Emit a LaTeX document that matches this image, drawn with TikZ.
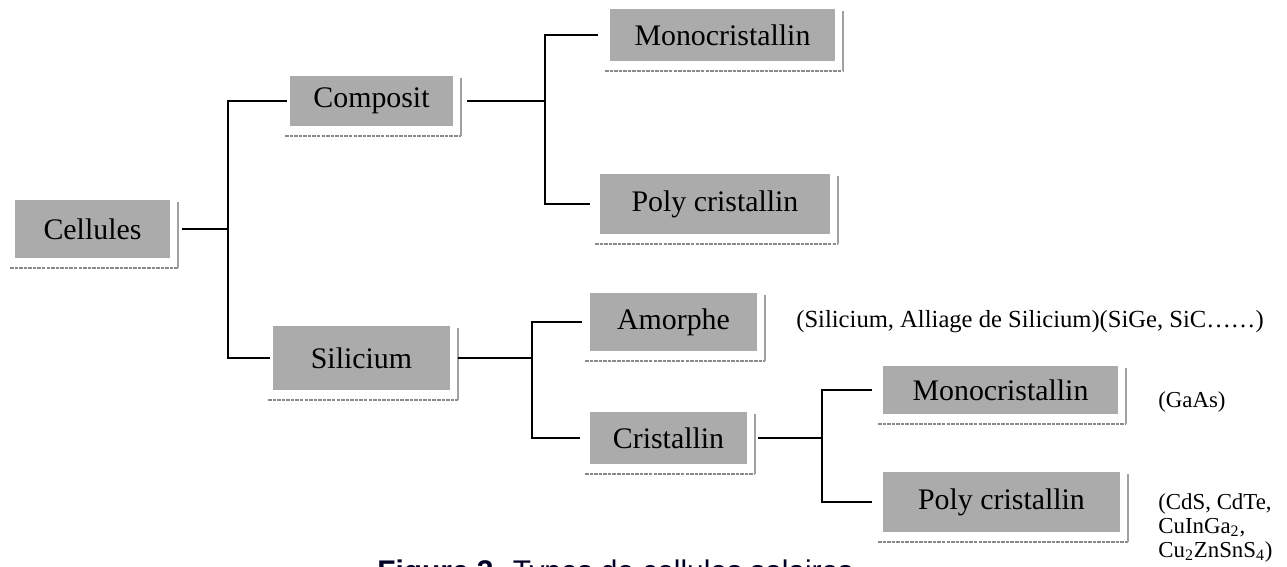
\documentclass[tikz,border=0pt]{standalone}
\usepackage{fontspec}
\setmainfont{Liberation Serif}
\newfontfamily\capfont{Liberation Sans}
\usetikzlibrary{calc}
\definecolor{boxgray}{HTML}{ABABAB}
\definecolor{shadowgray}{HTML}{8A8A8A}

\begin{document}
\begin{tikzpicture}[x=0.02cm, y=-0.02cm,
  cell/.style 2 args={fill=boxgray, inner sep=0pt, outer sep=0pt,
    minimum width=#1*0.02cm, minimum height=#2*0.02cm,
    font=\fontsize{17}{20}\selectfont},
  conn/.style={draw=black, line width=1.1pt},
  shadowbottom/.style={draw=shadowgray, line width=1.4pt, dash pattern=on 2pt off 0.6pt},
  shadowside/.style={draw=shadowgray!80, line width=0.7pt},
  note/.style={font=\fontsize{13}{13.6}\selectfont, anchor=west, inner sep=0pt, align=left}]
\useasboundingbox (0,0) rectangle (1287,567);
\fill[white] (0,0) rectangle (1287,567);

% boxes
\node[cell={155}{58}] (cel)   at (92.5,229)  {Cellules};
\node[cell={163}{50}] (comp)  at (371.5,101) {Composit};
\node[cell={225}{52}] (mono1) at (722.5,35)  {Monocristallin};
\node[cell={230}{60}] (poly1) at (715,204)   {Poly cristallin};
\node[cell={177}{64}] (sil)   at (361.5,358) {Silicium};
\node[cell={167}{58}] (amo)   at (673.5,322) {Amorphe};
\node[cell={157}{52}] (cri)   at (668.5,438) {Cristallin};
\node[cell={235}{48}] (mono2) at (1000.5,390){Monocristallin};
\node[cell={237}{60}] (poly2) at (1001.5,502){Poly cristallin};

% drop-shadow frame lines under and beside each box
\foreach \n in {cel,comp,mono1,poly1,sil,amo,cri,mono2,poly2}{
  \draw[shadowbottom] ([xshift=-0.1cm,yshift=-0.2cm]\n.south west) -- ([xshift=0.16cm,yshift=-0.2cm]\n.south east);
  \draw[shadowside] ([xshift=0.16cm,yshift=-0.2cm]\n.south east) -- ([xshift=0.16cm,yshift=-0.04cm]\n.north east);
}

% vertical bars of the tree
\coordinate (b1) at (228,0);
\coordinate (b2) at (545,0);
\coordinate (b3) at (532,0);
\coordinate (b4) at (822,0);

% connectors
\draw[conn] ([xshift=0.24cm]cel.east) -- (cel.east -| b1);
\draw[conn] ([xshift=-0.06cm]comp.west) -- (comp.west -| b1) -- (sil.west -| b1) -- ([xshift=-0.06cm]sil.west);

\draw[conn] ([xshift=0.28cm]comp.east) -- (comp.east -| b2);
\draw[conn] ([xshift=-0.24cm]mono1.west) -- (mono1.west -| b2) -- (poly1.west -| b2) -- ([xshift=-0.2cm]poly1.west);

\draw[conn] ([xshift=0.16cm]sil.east) -- (sil.east -| b3);
\draw[conn] ([xshift=-0.16cm]amo.west) -- (amo.west -| b3) -- (cri.west -| b3) -- ([xshift=-0.2cm]cri.west);

\draw[conn] ([xshift=0.22cm]cri.east) -- (cri.east -| b4);
\draw[conn] ([xshift=-0.22cm]mono2.west) -- (mono2.west -| b4) -- (poly2.west -| b4) -- ([xshift=-0.22cm]poly2.west);

% material notes
\node[note, font=\fontsize{14}{16}\selectfont] (n1) at (796,322) {(Silicium, Alliage de Silicium)(SiGe, SiC……)};
\node[note] (n2) at (1158,402) {(GaAs)};
\node[note] (n3) at (1158,528) {(CdS, CdTe,\\CuInGa\textsubscript{2},\\Cu\textsubscript{2}ZnSnS\textsubscript{4})};

% caption, cut by the lower edge
\begin{scope}
  \clip (0,0) rectangle (1287,567);
  \node[anchor=base west, inner sep=0pt, font=\capfont\fontsize{17}{20}\selectfont, text=black!85!blue] (cap) at (377,581) {\textbf{Figure 3.} Types de cellules solaires};
\end{scope}
\end{tikzpicture}
\end{document}
